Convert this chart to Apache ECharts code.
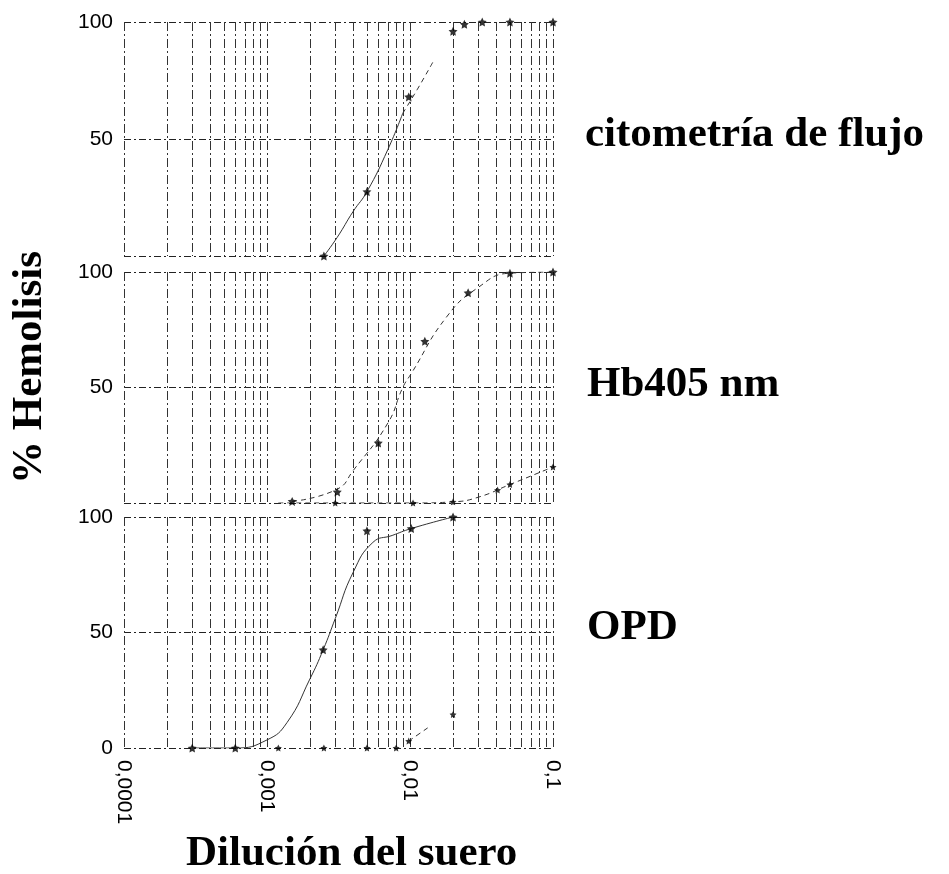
<!DOCTYPE html>
<html>
<head>
<meta charset="utf-8">
<script src="https://cdn.jsdelivr.net/npm/echarts@6/dist/echarts.min.js"></script>
<style>
  html, body { margin: 0; padding: 0; background: #fff; }
  #chart { width: 949px; height: 874px; }
</style>
</head>
<body>
<div id="chart"></div>
<script>
// x axis: serum dilution, log scale
const xTicks = [0.0001, 0.001, 0.01, 0.1];
const tickLabels = ['0,0001', '0,001', '0,01', '0,1'];
const gridX = [
  0.0001, 0.0002, 0.0003, 0.0004, 0.0005, 0.0006, 0.0007, 0.0008, 0.0009,
  0.001, 0.002, 0.003, 0.004, 0.005, 0.006, 0.007, 0.008, 0.009,
  0.01, 0.02, 0.03, 0.04, 0.05, 0.06, 0.07, 0.08, 0.09, 0.1
];
const panelNames = ['citometría de flujo', 'Hb405 nm', 'OPD'];

// panel 1: citometría de flujo
const flowPts = [[0.0025, 0], [0.005, 27.5], [0.0098, 68], [0.02, 96], [0.024, 99], [0.032, 100], [0.05, 100], [0.1, 100]];
const flowFit = [[0.0025, 0], [0.0031, 8], [0.004, 19], [0.005, 27.5], [0.007, 45.5], [0.0089, 61]];
const flowFitExt = [[0.0089, 61], [0.0112, 71], [0.0145, 83]];

// panel 2: Hb405 nm
const hbPtsA = [[0.0015, 0.7], [0.0031, 4.8], [0.006, 26], [0.0127, 70], [0.0255, 91], [0.05, 99.5], [0.1, 100]];
const hbFitA = [[0.0015, 0.7], [0.0031, 6], [0.004, 14], [0.007, 34.6], [0.0089, 50], [0.0102, 56], [0.018, 80.5], [0.0295, 93], [0.05, 99.5], [0.1, 100]];
const hbPtsB = [[0.003, 0], [0.0105, 0], [0.02, 0.5], [0.041, 5.6], [0.05, 8], [0.1, 15.6]];
const hbFitB = [[0.0012, 0], [0.003, 0], [0.0105, 0], [0.02, 0.5], [0.03, 2.5], [0.05, 8], [0.1, 15.6]];

// panel 3: OPD
const opdPtsA = [[0.0003, 0], [0.0006, 0], [0.00247, 42.5], [0.005, 94], [0.0102, 95], [0.02, 100]];
const opdFitA = [[0.0003, 0], [0.0006, 0], [0.001, 3.5], [0.00138, 11], [0.002, 30], [0.00247, 42.5], [0.003, 56], [0.004, 76], [0.0055, 89], [0.0075, 92], [0.0102, 95], [0.02, 100]];
const opdPtsB = [[0.0012, 0], [0.0025, 0], [0.005, 0], [0.008, 0], [0.0098, 3], [0.02, 14.5]];
const opdFitB = [[0.0098, 3], [0.0135, 9]];

const star = 'path://M0,-10 L2.9,-4 L9.5,-3.1 L4.7,1.5 L5.9,8.1 L0,5 L-5.9,8.1 L-4.7,1.5 L-9.5,-3.1 L-2.9,-4 Z';
const serif = 'bold 43px "Liberation Serif"';

const grids = [
  { left: 124, right: 396, top: 22, height: 234 },
  { left: 124, right: 396, top: 272, height: 231 },
  { left: 124, right: 396, top: 517, height: 231 }
];

const xAxes = grids.map((g, i) => ({
  gridIndex: i,
  type: 'log',
  logBase: 10,
  min: 0.0001,
  max: 0.1,
  axisLine: { show: false },
  axisTick: { show: false },
  splitLine: { show: false },
  axisLabel: {
    show: i === 2,
    rotate: -90,
    margin: 12,
    fontSize: 21,
    fontFamily: 'Liberation Sans',
    color: '#000',
    formatter: v => tickLabels[Math.round(Math.log10(v)) + 4] || ''
  }
}));

const yAxes = grids.map((g, i) => ({
  gridIndex: i,
  type: 'value',
  min: 0,
  max: 100,
  interval: 50,
  axisLine: { show: false },
  axisTick: { show: false },
  splitLine: { show: true, lineStyle: { color: '#222', type: [7, 3, 2, 3], width: 1 } },
  axisLabel: {
    margin: 11,
    fontSize: 21,
    fontFamily: 'Liberation Sans',
    color: '#000',
    padding: [0, 0, 6, 0],
    formatter: v => (v === 0 && i < 2) ? '' : String(v)
  }
}));

function vGrid(i) {
  return {
    type: 'custom', xAxisIndex: i, yAxisIndex: i, silent: true,
    data: gridX.map(v => [v, 0]),
    encode: { x: 0, y: 1 },
    renderItem: (params, api) => {
      const t = api.coord([api.value(0), 100]);
      const b = api.coord([api.value(0), 0]);
      const x = Math.round(t[0]) + 0.5;
      return {
        type: 'line',
        shape: { x1: x, y1: t[1], x2: x, y2: b[1] },
        style: { stroke: '#333', lineWidth: 1, lineDash: [9, 3, 2, 3] }
      };
    }
  };
}
function fit(i, data, dashed) {
  return {
    type: 'line', xAxisIndex: i, yAxisIndex: i, data: data, smooth: true,
    showSymbol: false, silent: true, z: 3,
    lineStyle: { color: '#333', width: 1, type: dashed ? [5, 4] : 'solid' }
  };
}
function pts(i, data, size) {
  return {
    type: 'scatter', xAxisIndex: i, yAxisIndex: i, data: data, z: 4,
    symbol: star, symbolSize: size || 9, itemStyle: { color: '#000' }
  };
}

const chart = echarts.init(document.getElementById('chart'));
chart.setOption({
  animation: false,
  backgroundColor: '#fff',
  grid: grids,
  xAxis: xAxes,
  yAxis: yAxes,
  graphic: [
    { type: 'text', x: 585, y: 113, style: { text: panelNames[0], font: serif, fill: '#000' } },
    { type: 'text', x: 587, y: 363, style: { text: panelNames[1], font: serif, fill: '#000' } },
    { type: 'text', x: 587, y: 606, style: { text: panelNames[2], font: serif, fill: '#000' } },
    { type: 'text', x: 8, y: 484, rotation: Math.PI / 2, style: { text: '% Hemolisis', font: serif, fill: '#000' } },
    { type: 'text', x: 186, y: 832, style: { text: 'Dilución del suero', font: serif, fill: '#000' } }
  ],
  series: [
    vGrid(0), vGrid(1), vGrid(2),
    fit(0, flowFit, false), fit(0, flowFitExt, true), pts(0, flowPts),
    fit(1, hbFitA, true), pts(1, hbPtsA), fit(1, hbFitB, true), pts(1, hbPtsB, 7),
    fit(2, opdFitA, false), pts(2, opdPtsA), fit(2, opdFitB, true), pts(2, opdPtsB, 7)
  ]
});
</script>
</body>
</html>
